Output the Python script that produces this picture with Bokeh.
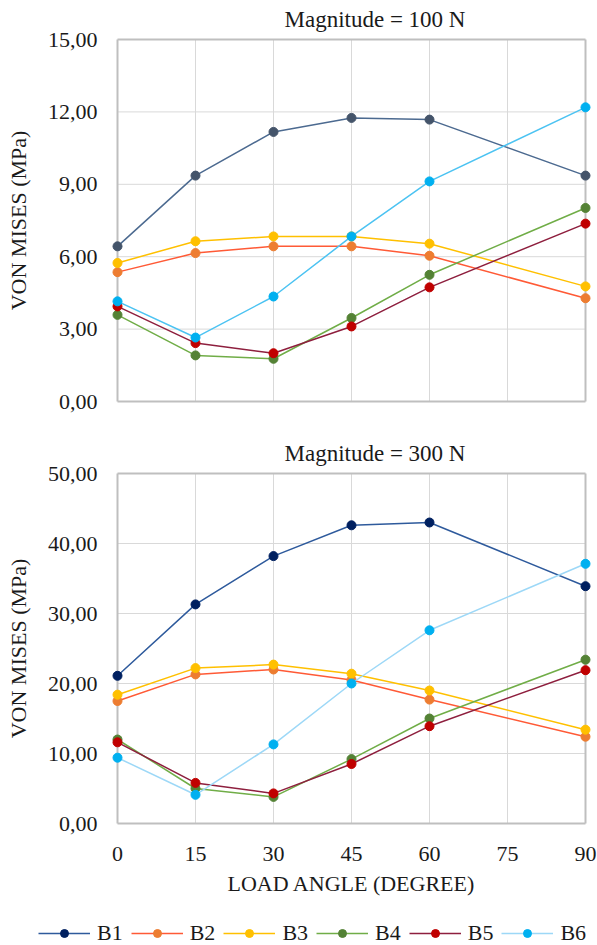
from bokeh.plotting import figure
from bokeh.layouts import column
from bokeh.models import FixedTicker, Legend, LegendItem, Title, Range1d
from bokeh.embed import file_html
from bokeh.resources import INLINE

# ---------------- data ----------------
ANGLES = [0, 15, 30, 45, 60, 90]
SERIES = ["B1", "B2", "B3", "B4", "B5", "B6"]

# Magnitude = 100 N
B1_100 = [6.43, 9.36, 11.17, 11.75, 11.68, 9.36]
B2_100 = [5.36, 6.15, 6.43, 6.43, 6.04, 4.28]
B3_100 = [5.74, 6.64, 6.84, 6.84, 6.54, 4.77]
B4_100 = [3.59, 1.91, 1.77, 3.46, 5.25, 8.02]
B5_100 = [3.94, 2.42, 2.00, 3.11, 4.73, 7.37]
B6_100 = [4.15, 2.65, 4.35, 6.84, 9.12, 12.19]

# Magnitude = 300 N
B1_300 = [21.1, 31.3, 38.2, 42.6, 43.0, 33.9]
B2_300 = [17.5, 21.3, 22.0, 20.5, 17.7, 12.4]
B3_300 = [18.4, 22.2, 22.7, 21.4, 19.0, 13.4]
B4_300 = [12.0, 5.0, 3.8, 9.2, 15.0, 23.4]
B5_300 = [11.6, 5.8, 4.3, 8.5, 13.9, 21.9]
B6_300 = [9.4, 4.1, 11.3, 20.0, 27.6, 37.1]

X_TICKS = [0, 15, 30, 45, 60, 75, 90]
X_TICK_LABELS = ["0", "15", "30", "45", "60", "75", "90"]
Y1_TICKS = [0, 3, 6, 9, 12, 15]
Y1_TICK_LABELS = ["0,00", "3,00", "6,00", "9,00", "12,00", "15,00"]
Y2_TICKS = [0, 10, 20, 30, 40, 50]
Y2_TICK_LABELS = ["0,00", "10,00", "20,00", "30,00", "40,00", "50,00"]

TITLE_1 = "Magnitude = 100 N"
TITLE_2 = "Magnitude = 300 N"
Y_LABEL = "VON MISES (MPa)"
X_LABEL = "LOAD ANGLE (DEGREE)"

# ---------------- style ----------------
FONT = "Liberation Serif"
FS = "22px"
TXT = "#1a1a1a"
GRID_C = "#D9D9D9"
BORDER_C = "#BFBFBF"

LINE_1 = ["#4C6A90", "#FF5A36", "#FFC000", "#70AD47", "#8E1F3E", "#4CC3F2"]
MARK_1 = ["#44546A", "#ED7D31", "#FFC000", "#548235", "#C00000", "#00B0F0"]
LINE_2 = ["#2E5A9C", "#FF5A36", "#FFC000", "#70AD47", "#8E1F3E", "#9DD8F7"]
MARK_2 = ["#002060", "#ED7D31", "#FFC000", "#548235", "#C00000", "#00B0F0"]

W = 597
PAD_PX = 6
LEFT, RIGHT = 111, 6
NAN = float("nan")


def make_fig(height, b_top, b_bottom, y_ticks, y_labels, title, show_x):
    frame_w = W - LEFT - RIGHT
    frame_h = height - b_top - b_bottom
    xspan = X_TICKS[-1] - X_TICKS[0]
    yspan = y_ticks[-1] - y_ticks[0]
    padx = PAD_PX * xspan / (frame_w - 2 * PAD_PX)
    pady = PAD_PX * yspan / (frame_h - 2 * PAD_PX)
    p = figure(width=W, height=height, output_backend="svg", toolbar_location=None,
               x_range=Range1d(X_TICKS[0] - padx, X_TICKS[-1] + padx),
               y_range=Range1d(y_ticks[0] - pady, y_ticks[-1] + pady),
               x_axis_location="below" if show_x else None,
               min_border_left=LEFT, min_border_right=RIGHT,
               min_border_top=b_top, min_border_bottom=b_bottom)
    p.outline_line_color = None
    p.grid.visible = False
    p.background_fill_color = "white"
    p.border_fill_color = "white"

    t = Title(text=title, align="left", offset=173, standoff=4,
              text_font=FONT, text_font_size="23px", text_font_style="normal",
              text_color=TXT)
    p.add_layout(t, "above")

    # grid lines
    inner_x = X_TICKS[1:-1]
    p.segment(x0=inner_x, x1=inner_x, y0=[y_ticks[0]] * len(inner_x),
              y1=[y_ticks[-1]] * len(inner_x), line_color=GRID_C, line_width=1)
    inner_y = y_ticks[1:-1]
    p.segment(y0=inner_y, y1=inner_y, x0=[X_TICKS[0]] * len(inner_y),
              x1=[X_TICKS[-1]] * len(inner_y), line_color=GRID_C, line_width=1)
    # border box
    p.segment(x0=[X_TICKS[0], X_TICKS[-1], X_TICKS[0], X_TICKS[0]],
              x1=[X_TICKS[0], X_TICKS[-1], X_TICKS[-1], X_TICKS[-1]],
              y0=[y_ticks[0], y_ticks[0], y_ticks[0], y_ticks[-1]],
              y1=[y_ticks[-1], y_ticks[-1], y_ticks[0], y_ticks[-1]],
              line_color=BORDER_C, line_width=2)

    ax = p.yaxis[0]
    ax.ticker = FixedTicker(ticks=y_ticks)
    ax.major_label_overrides = {t_: l for t_, l in zip(y_ticks, y_labels)}
    ax.axis_line_color = None
    ax.major_tick_line_color = None
    ax.minor_tick_line_color = None
    ax.major_tick_out = 0
    ax.major_tick_in = 0
    ax.major_label_standoff = 14
    ax.major_label_text_font = FONT
    ax.major_label_text_font_size = FS
    ax.major_label_text_color = TXT
    ax.axis_label = Y_LABEL
    ax.axis_label_standoff = 14
    ax.axis_label_text_font = FONT
    ax.axis_label_text_font_size = FS
    ax.axis_label_text_font_style = "normal"
    ax.axis_label_text_color = TXT

    if show_x:
        xa = p.xaxis[0]
        xa.ticker = FixedTicker(ticks=X_TICKS)
        xa.major_label_overrides = {t_: l for t_, l in zip(X_TICKS, X_TICK_LABELS)}
        xa.axis_line_color = None
        xa.major_tick_line_color = None
        xa.minor_tick_line_color = None
        xa.major_tick_out = 0
        xa.major_tick_in = 0
        xa.major_label_standoff = 17
        xa.major_label_text_font = FONT
        xa.major_label_text_font_size = FS
        xa.major_label_text_color = TXT
        xa.axis_label = X_LABEL
        xa.axis_label_standoff = 7
        xa.axis_label_text_font = FONT
        xa.axis_label_text_font_size = FS
        xa.axis_label_text_font_style = "normal"
        xa.axis_label_text_color = TXT
    return p


def draw(p, data, line_cols, mark_cols):
    for vals, lc, mc in zip(data, line_cols, mark_cols):
        p.line(ANGLES, vals, line_color=lc, line_width=1.5)
        p.scatter(ANGLES, vals, size=9, fill_color=mc, line_color=mc)


p1 = make_fig(430, 33, 23, Y1_TICKS, Y1_TICK_LABELS, TITLE_1, False)
draw(p1, [B1_100, B2_100, B3_100, B4_100, B5_100, B6_100], LINE_1, MARK_1)

p2 = make_fig(475, 37, 76, Y2_TICKS, Y2_TICK_LABELS, TITLE_2, True)
draw(p2, [B1_300, B2_300, B3_300, B4_300, B5_300, B6_300], LINE_2, MARK_2)

# legend strip (a plot of its own whose frame fills the whole strip)
p3 = figure(width=W, height=40, output_backend="svg", toolbar_location=None,
            x_range=Range1d(0, 1), y_range=Range1d(0, 1),
            x_axis_location=None, y_axis_location=None,
            min_border_left=0, min_border_right=0, min_border_top=0, min_border_bottom=0)
p3.frame_align = False
p3.outline_line_color = None
p3.grid.visible = False
p3.background_fill_color = "white"
p3.border_fill_color = "white"
items = []
for name, lc, mc in zip(SERIES, LINE_2, MARK_2):
    lr = p3.line(x=[NAN], y=[NAN], line_color=lc, line_width=1.5)
    sr = p3.scatter(x=[NAN], y=[NAN], size=9, fill_color=mc, line_color=mc)
    items.append(LegendItem(label=name, renderers=[lr, sr]))
legend = Legend(items=items, orientation="horizontal", location=(38, -1),
                padding=0, margin=0, spacing=8, glyph_width=52, glyph_height=20,
                label_standoff=7, label_text_font=FONT, label_text_font_size=FS,
                label_text_color=TXT, border_line_color=None,
                background_fill_alpha=0)
p3.add_layout(legend, "center")

layout = column(p1, p2, p3, spacing=0)
open("out.html", "w").write(file_html(layout, INLINE))
